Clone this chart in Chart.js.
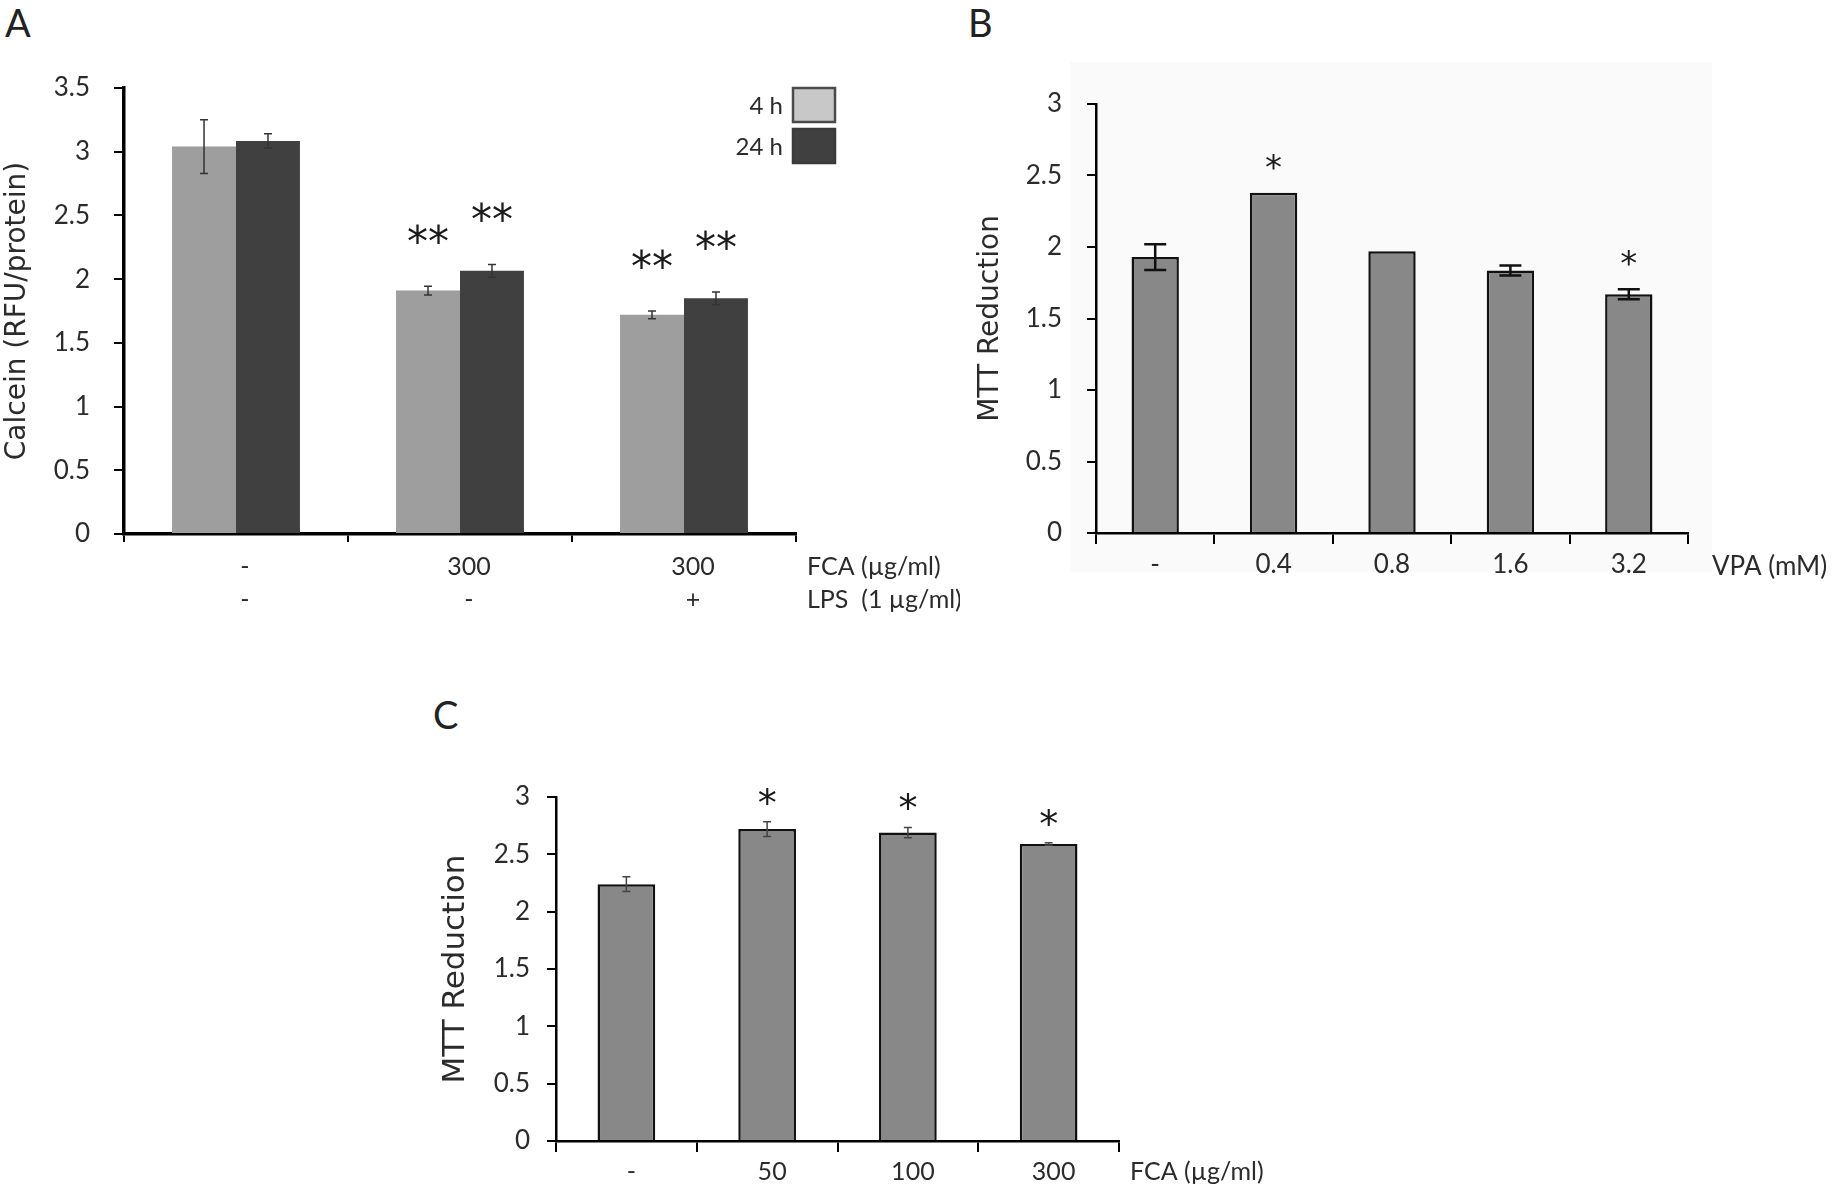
<!DOCTYPE html>
<html><head><meta charset="utf-8">
<script src="https://cdn.jsdelivr.net/npm/chart.js@4.4.1/dist/chart.umd.min.js"></script>
<style>
html,body{margin:0;padding:0;background:#fff;}
#page{position:relative;width:1832px;height:1188px;overflow:hidden;background:#fff;}
canvas{position:absolute;}
.lbl{position:absolute;font-family:Lato,sans-serif;font-size:38px;color:#222;line-height:1;}
#bgB{position:absolute;left:1070px;top:62px;width:642px;height:510px;background:#fafafa;}
</style></head><body>
<div id="page">
<div id="bgB"></div>
<div class="lbl" style="left:5px;top:3px">A</div>
<div class="lbl" style="left:968px;top:3px">B</div>
<div class="lbl" style="left:433px;top:695px">C</div>
<canvas id="cA" width="960" height="592" style="left:0;top:48px;width:960px;height:592px"></canvas>
<canvas id="cB" width="892" height="580" style="left:940px;top:60px;width:892px;height:580px"></canvas>
<canvas id="cC" width="900" height="498" style="left:380px;top:690px;width:900px;height:498px"></canvas>
</div>
<script>
// ---------- Panel A data ----------
const fcaRowA = ['-', '300', '300'];
const lpsRowA = ['-', '-', '+'];
const seriesNamesA = ['4 h', '24 h'];
const calcein4h = [3.04, 1.91, 1.72];
const calcein4hErr = [0.21, 0.035, 0.03];
const calcein24h = [3.085, 2.065, 1.85];
const calcein24hErr = [0.055, 0.05, 0.05];
const sig4h = ['', '**', '**'];
const sig24h = ['', '**', '**'];
const yTicksA = ['0', '0.5', '1', '1.5', '2', '2.5', '3', '3.5'];
const yTitleA = 'Calcein (RFU/protein)';
const notesA = ['FCA (\u00b5g/ml)', 'LPS  (1 \u00b5g/ml)'];

// ---------- Panel B data ----------
const vpaLabels = ['-', '0.4', '0.8', '1.6', '3.2'];
const mttVPA = [1.93, 2.38, 1.97, 1.835, 1.67];
const mttVPAErr = [0.09, 0, 0, 0.035, 0.035];
const sigVPA = ['', '*', '', '', '*'];
const yTicksB = ['0', '0.5', '1', '1.5', '2', '2.5', '3'];
const yTitleB = 'MTT Reduction';
const notesB = ['VPA (mM)'];

// ---------- Panel C data ----------
const fcaLabelsC = ['-', '50', '100', '300'];
const mttFCA = [2.24, 2.72, 2.69, 2.59];
const mttFCAErr = [0.065, 0.065, 0.045, 0.01];
const sigFCA = ['', '*', '*', '*'];
const yTicksC = ['0', '0.5', '1', '1.5', '2', '2.5', '3'];
const yTitleC = 'MTT Reduction';
const notesC = ['FCA (\u00b5g/ml)'];

const TXT = '#2b2b2b';
const TICKFONT = 'Lato, sans-serif';

const annot = {
  id: 'annot',
  afterDatasetsDraw(chart, args, o) {
    const ctx = chart.ctx, y = chart.scales.y;
    ctx.save();
    chart.data.datasets.forEach((ds, di) => {
      const meta = chart.getDatasetMeta(di);
      meta.data.forEach((bar, i) => {
        const v = ds.data[i], e = ds.errs[i] || 0;
        if (e > 0) {
          const yt = y.getPixelForValue(v + e), yb = y.getPixelForValue(v - e);
          ctx.strokeStyle = o.errColor; ctx.lineWidth = o.errWidth;
          ctx.beginPath();
          ctx.moveTo(bar.x, yt); ctx.lineTo(bar.x, yb);
          ctx.moveTo(bar.x - o.cap, yt); ctx.lineTo(bar.x + o.cap, yt);
          ctx.moveTo(bar.x - o.cap, yb); ctx.lineTo(bar.x + o.cap, yb);
          ctx.stroke();
        }
        const s = ds.sig[i];
        if (s) {
          ctx.fillStyle = '#1a1a1a';
          ctx.font = o.sigFont;
          ctx.textAlign = 'center';
          ctx.textBaseline = 'alphabetic';
          ctx.fillText(s, bar.x, y.getPixelForValue(v + e) - o.sigOffset);
        }
      });
    });
    ctx.restore();
  },
  afterDraw(chart, args, o) {
    const ctx = chart.ctx, ca = chart.chartArea, xs = chart.scales.x;
    const xo = xs.options;
    ctx.save();
    const fs = xo.ticks.font.size, lh = fs * xo.ticks.font.lineHeight;
    const y0 = ca.bottom + xo.grid.tickLength + xo.ticks.padding;
    ctx.font = fs + 'px ' + TICKFONT;
    ctx.fillStyle = TXT;
    ctx.textAlign = 'left';
    ctx.textBaseline = 'middle';
    o.notes.forEach((t, i) => ctx.fillText(t, ca.right + o.noteDx, y0 + lh * (i + 0.5) + o.noteDy));
    if (o.legend) {
      const L = o.legend;
      chart.data.datasets.forEach((ds, i) => {
        const bx = ca.right + L.dx, by = ca.top + L.dy + i * L.step;
        ctx.fillStyle = L.fills[i];
        ctx.fillRect(bx, by, L.w, L.h);
        ctx.strokeStyle = L.strokes[i]; ctx.lineWidth = 2.5;
        ctx.strokeRect(bx, by, L.w, L.h);
        ctx.fillStyle = TXT;
        ctx.font = L.font;
        ctx.textAlign = 'right';
        ctx.textBaseline = 'middle';
        ctx.fillText(ds.label, bx - 10, by + L.h / 2 + 1);
      });
    }
    ctx.restore();
  }
};

function yScale(max, ticksArr, title, tfs, tpad, width, tickLen, tickPad, bw) {
  return {
    min: 0, max: max,
    ticks: { stepSize: 0.5, padding: tickPad, color: TXT, font: { family: TICKFONT, size: 26 },
      callback: (v) => ticksArr[Math.round(v / 0.5)] },
    grid: { drawOnChartArea: false, drawTicks: true, tickLength: tickLen, color: '#000', lineWidth: 2 },
    border: { display: true, color: '#000', width: bw },
    title: { display: true, text: title, color: TXT, font: { family: 'DejaVu Sans', size: tfs }, padding: { top: tpad, bottom: 0 } },
    afterFit(s) { s.width = width; }
  };
}
function xScale(height, tickLen, pad, fs, lh, bw, lo) {
  return {
    grid: { display: true, drawOnChartArea: false, drawTicks: true, tickLength: tickLen, color: '#000', lineWidth: 2, offset: true },
    border: { display: true, color: '#000', width: bw },
    ticks: { padding: pad, labelOffset: lo, color: TXT, font: { family: TICKFONT, size: fs, lineHeight: lh }, maxRotation: 0, autoSkip: false },
    afterFit(s) { s.height = height; }
  };
}
const base = { responsive: false, animation: false, devicePixelRatio: 1, events: [] };

new Chart(document.getElementById('cA'), {
  type: 'bar',
  data: {
    labels: fcaRowA.map((v, i) => [v, lpsRowA[i]]),
    datasets: [
      { label: seriesNamesA[0], data: calcein4h, errs: calcein4hErr, sig: sig4h, backgroundColor: '#9e9e9e', borderWidth: 0 },
      { label: seriesNamesA[1], data: calcein24h, errs: calcein24hErr, sig: sig24h, backgroundColor: '#404040', borderWidth: 0 }
    ]
  },
  options: Object.assign({}, base, {
    layout: { padding: { left: 0, right: 164, top: 40, bottom: 6 } },
    datasets: { bar: { categoryPercentage: 0.571, barPercentage: 1 } },
    plugins: { legend: { display: false }, tooltip: { enabled: false },
      annot: { errColor: '#333', errWidth: 1.5, cap: 4, sigFont: '42px "DejaVu Sans"', sigOffset: 30,
        notes: notesA, noteDx: 11, noteDy: 0,
        legend: { dx: -3, dy: 0, step: 41, w: 42, h: 34, fills: ['#c8c8c8', '#404040'], strokes: ['#4a4a4a', '#3a3a3a'], font: '24px Lato, sans-serif' } } },
    scales: { x: xScale(100, 8, 8, 25, 1.32, 3.5, 9), y: yScale(3.5, yTicksA, yTitleA, 28, 1, 124, 10, 24, 3.5) }
  }),
  plugins: [annot]
});

new Chart(document.getElementById('cB'), {
  type: 'bar',
  data: {
    labels: vpaLabels,
    datasets: [{ label: yTitleB, data: mttVPA, errs: mttVPAErr, sig: sigVPA, backgroundColor: '#888888', borderColor: '#111', borderWidth: 2.5 }]
  },
  options: Object.assign({}, base, {
    layout: { padding: { left: 0, right: 144, top: 44, bottom: 7 } },
    datasets: { bar: { categoryPercentage: 0.4, barPercentage: 1 } },
    plugins: { legend: { display: false }, tooltip: { enabled: false },
      annot: { errColor: '#111', errWidth: 2.5, cap: 11, sigFont: '34px "DejaVu Sans"', sigOffset: 14,
        notes: notesB, noteDx: 24, noteDy: 2 } },
    scales: { x: xScale(100, 11, 5, 26, 1.2, 2.5, 0), y: yScale(3, yTicksB, yTitleB, 28, 34, 156, 9, 25, 2.5) }
  }),
  plugins: [annot]
});

new Chart(document.getElementById('cC'), {
  type: 'bar',
  data: {
    labels: fcaLabelsC,
    datasets: [{ label: yTitleC, data: mttFCA, errs: mttFCAErr, sig: sigFCA, backgroundColor: '#888888', borderColor: '#111', borderWidth: 2.5 }]
  },
  options: Object.assign({}, base, {
    layout: { padding: { left: 0, right: 161, top: 107, bottom: 7 } },
    datasets: { bar: { categoryPercentage: 0.41, barPercentage: 1 } },
    plugins: { legend: { display: false }, tooltip: { enabled: false },
      annot: { errColor: '#444', errWidth: 1.5, cap: 4, sigFont: '38px "DejaVu Sans"', sigOffset: 6,
        notes: notesC, noteDx: 11, noteDy: 0 } },
    scales: { x: xScale(40, 11, 5, 25, 1.2, 2.5, 5), y: yScale(3, yTicksC, yTitleC, 31, 57, 176, 9, 17, 2.5) }
  }),
  plugins: [annot]
});
</script>
</body></html>
